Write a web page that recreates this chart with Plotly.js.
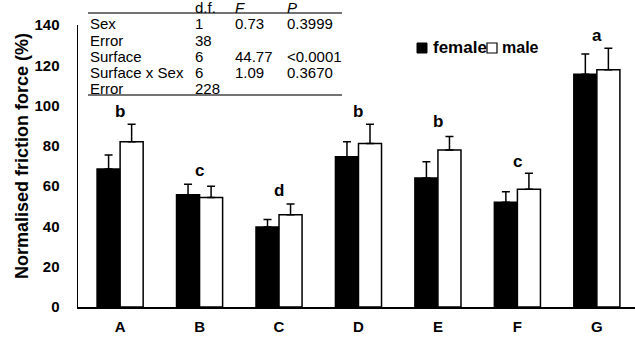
<!DOCTYPE html>
<html>
<head>
<meta charset="utf-8">
<script src="https://cdn.plot.ly/plotly-3.0.1.min.js"></script>
<style>html,body{margin:0;padding:0;background:#fff}#chart{width:635px;height:338px}</style>
</head>
<body>
<div id="chart"></div>
<script>
// ---- data ----
const categories = ["A", "B", "C", "D", "E", "F", "G"];
const femaleMean = [68.5, 55.7, 39.7, 74.6, 64.0, 52.0, 115.6];
const femaleErr  = [6.9, 5.3, 3.8, 7.4, 8.1, 5.2, 10.0];
const maleMean   = [82.0, 54.4, 45.8, 81.2, 77.9, 58.4, 117.8];
const maleErr    = [8.7, 5.6, 5.3, 9.5, 6.8, 8.0, 10.6];
const letters    = ["b", "c", "d", "b", "b", "c", "a"];
const letterY    = [97, 68, 58, 97, 92, 72, 135];
const tableRows = [
  ["Sex", "1", "0.73", "0.3999"],
  ["Error", "38", "", ""],
  ["Surface", "6", "44.77", "<0.0001"],
  ["Surface x Sex", "6", "1.09", "0.3670"],
  ["Error", "228", "", ""]
];
const tableHeader = ["", "d.f.", "<i>F</i>", "<i>P</i>"];
const seriesNames = ["female", "male"];
const yTitle = "Normalised friction force (%)";

// ---- layout helpers (pixel -> paper) ----
const L = 78, W = 557, B = 307, H = 282;
const px = x => (x - L) / W;
const py = y => (B - y) / H;
const FONT = "Liberation Sans, Arial, sans-serif";

const errStyle = {type: "data", symmetric: false, arrayminus: categories.map(() => 0),
  color: "#000", thickness: 1.5, width: 4};

const traces = [
  {type: "bar", name: seriesNames[0], x: categories, y: femaleMean,
   marker: {color: "#000", line: {color: "#000", width: 1.5}},
   error_y: Object.assign({}, errStyle, {array: femaleErr}), showlegend: false},
  {type: "bar", name: seriesNames[1], x: categories, y: maleMean,
   marker: {color: "#fff", line: {color: "#000", width: 1.5}},
   error_y: Object.assign({}, errStyle, {array: maleErr}), showlegend: false}
];

const annotations = [];
categories.forEach((c, i) => {
  annotations.push({x: c, y: letterY[i], xref: "x", yref: "y", text: "<b>" + letters[i] + "</b>",
    showarrow: false, font: {family: FONT, size: 17, color: "#000"}});
});
const colX = [88, 193, 233, 285];
const rowY = [23, 40, 56, 72, 88];
tableHeader.forEach((t, j) => {
  if (t) annotations.push({x: px(colX[j]), y: py(7), xref: "paper", yref: "paper", text: t,
    showarrow: false, xanchor: "left", yanchor: "middle", font: {family: FONT, size: 15, color: "#000"}});
});
tableRows.forEach((r, i) => {
  r.forEach((t, j) => {
    if (t) annotations.push({x: px(colX[j]), y: py(rowY[i]), xref: "paper", yref: "paper", text: t,
      showarrow: false, xanchor: "left", yanchor: "middle", font: {family: FONT, size: 15, color: "#000"}});
  });
});
// legend text
annotations.push({x: px(431), y: py(48), xref: "paper", yref: "paper", text: "<b>" + seriesNames[0] + "</b>",
  showarrow: false, xanchor: "left", yanchor: "middle", font: {family: FONT, size: 17, color: "#000"}});
annotations.push({x: px(500), y: py(48), xref: "paper", yref: "paper", text: "<b>" + seriesNames[1] + "</b>",
  showarrow: false, xanchor: "left", yanchor: "middle", font: {family: FONT, size: 16, color: "#000"}});
// y-axis title
annotations.push({x: px(22), y: py(156), xref: "paper", yref: "paper", text: "<b>" + yTitle + "</b>",
  textangle: -90, showarrow: false, xanchor: "center", yanchor: "middle",
  font: {family: FONT, size: 18, color: "#000"}});

const shapes = [
  {type: "line", xref: "paper", yref: "paper", x0: px(88), x1: px(342), y0: py(13), y1: py(13), line: {color: "#444", width: 1.5}},
  {type: "line", xref: "paper", yref: "paper", x0: px(88), x1: px(342), y0: py(95), y1: py(95), line: {color: "#444", width: 1.5}},
  {type: "rect", xref: "paper", yref: "paper", x0: px(417), x1: px(427), y0: py(53), y1: py(43), fillcolor: "#000", line: {color: "#000", width: 1}},
  {type: "rect", xref: "paper", yref: "paper", x0: px(487), x1: px(497), y0: py(53), y1: py(43), fillcolor: "#fff", line: {color: "#000", width: 1.2}}
];

const layout = {
  width: 635, height: 338,
  margin: {l: L, r: 635 - L - W, t: B - H, b: 338 - B, pad: 0},
  paper_bgcolor: "#fff", plot_bgcolor: "#fff",
  barmode: "group", bargap: 0.42, bargroupgap: 0,
  showlegend: false,
  font: {family: FONT, color: "#000"},
  xaxis: {type: "category", range: [-0.53, 6.48], showline: true, linecolor: "#000", linewidth: 1.5,
    showgrid: false, zeroline: false, ticks: "", ticklabelstandoff: 5,
    tickfont: {family: FONT, size: 15, color: "#000", weight: "bold"}},
  yaxis: {range: [0, 140], dtick: 20, showline: true, linecolor: "#000", linewidth: 1.5,
    showgrid: false, zeroline: false, ticks: "", ticklabelstandoff: 14,
    tickfont: {family: FONT, size: 15, color: "#000", weight: "bold"}},
  annotations: annotations,
  shapes: shapes
};

Plotly.newPlot("chart", traces, layout, {displayModeBar: false, staticPlot: true});
</script>
</body>
</html>
